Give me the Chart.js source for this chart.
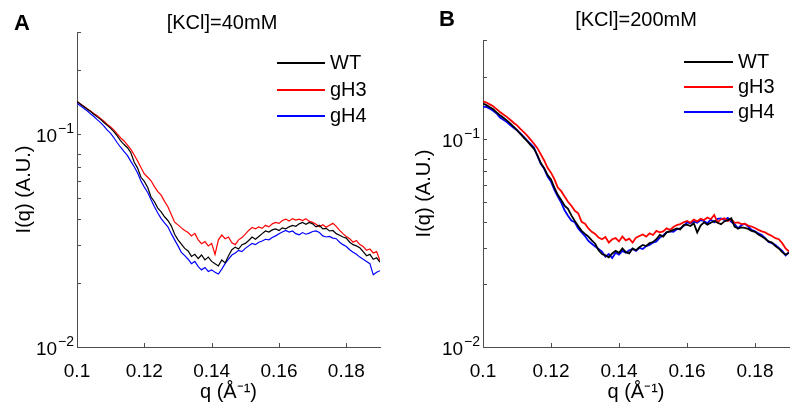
<!DOCTYPE html>
<html>
<head>
<meta charset="utf-8">
<script src="https://cdn.jsdelivr.net/npm/chart.js@4.4.1/dist/chart.umd.min.js"></script>
<style>
  html, body { margin:0; padding:0; background:#fff; }
  body { width:798px; height:412px; position:relative; overflow:hidden; font-family:"Liberation Sans", Arial, Helvetica, sans-serif; color:#000; }
  canvas { position:absolute; top:0; }
  .txt { position:absolute; white-space:nowrap; line-height:1; }
  .letter { font-weight:bold; font-size:22px; }
  .ttl { font-size:20px; transform:translateX(-50%); }
  .leg { position:absolute; font-size:20px; }
  .leg .row { position:absolute; left:0; height:0; white-space:nowrap; }
  .leg .ln { position:absolute; left:0; }
  .leg .lb { position:absolute; top:-11px; line-height:1; }
</style>
</head>
<body>
<canvas id="cA" width="399" height="412" style="left:0;width:399px;height:412px"></canvas>
<canvas id="cB" width="399" height="412" style="left:399px;width:399px;height:412px"></canvas>

<div class="txt letter" style="left:14px;top:12px">A</div>
<div class="txt letter" style="left:439px;top:8px">B</div>
<div class="txt ttl" id="tA" style="left:222px;top:12px"></div>
<div class="txt ttl" id="tB" style="left:636px;top:9px"></div>
<div class="leg" id="legA" style="left:277px;top:0"></div>
<div class="leg" id="legB" style="left:684px;top:0"></div>

<script>
// ---------- data ----------
const titles = ['[KCl]=40mM', '[KCl]=200mM'];
const seriesNames = ['WT', 'gH3', 'gH4'];
const seriesColors = ['#000000', '#ff0000', '#0000ff'];
const xTicks = [0.10, 0.12, 0.14, 0.16, 0.18];
const yTicks = [0.01, 0.02, 0.03, 0.04, 0.05, 0.06, 0.07, 0.08, 0.1, 0.2, 0.3];
const yMajor = [0.1, 0.01];
const yMajorBase = ['10', '10'];
const yMajorExp = ['\u22121', '\u22122'];
const xTitle = 'q (\u00C5\u207B\u00B9)';
const yTitle = 'I(q) (A.U.)';

const q = [0.100,0.101,0.102,0.103,0.104,0.105,0.106,0.107,0.108,0.109,
           0.110,0.111,0.112,0.113,0.114,0.115,0.116,0.117,0.118,0.119,
           0.120,0.121,0.122,0.123,0.124,0.125,0.126,0.127,0.128,0.129,
           0.130,0.131,0.132,0.133,0.134,0.135,0.136,0.137,0.138,0.139,
           0.140,0.141,0.142,0.143,0.144,0.145,0.146,0.147,0.148,0.149,
           0.150,0.151,0.152,0.153,0.154,0.155,0.156,0.157,0.158,0.159,
           0.160,0.161,0.162,0.163,0.164,0.165,0.166,0.167,0.168,0.169,
           0.170,0.171,0.172,0.173,0.174,0.175,0.176,0.177,0.178,0.179,
           0.180,0.181,0.182,0.183,0.184,0.185,0.186,0.187,0.188,0.189,0.190];

// Panel A ([KCl]=40mM)
const wtA = [0.1416,0.1378,0.1342,0.1305,0.1272,0.1235,0.1200,0.1168,0.1130,0.1095,
             0.1060,0.1020,0.0975,0.0925,0.0890,0.0860,0.0815,0.0735,0.0690,0.0625,
             0.0598,0.0560,0.0505,0.0480,0.0448,0.0430,0.0408,0.0392,0.0370,0.0338,
             0.0318,0.0304,0.0290,0.0282,0.0266,0.0272,0.0260,0.0270,0.0256,0.0264,
             0.0252,0.0246,0.0240,0.0256,0.0248,0.0268,0.0286,0.0294,0.0288,0.0302,
             0.0306,0.0316,0.0328,0.0320,0.0330,0.0340,0.0350,0.0346,0.0354,0.0358,
             0.0352,0.0362,0.0358,0.0366,0.0372,0.0368,0.0378,0.0384,0.0376,0.0384,
             0.0378,0.0366,0.0372,0.0358,0.0360,0.0350,0.0352,0.0340,0.0334,0.0328,
             0.0324,0.0310,0.0302,0.0298,0.0292,0.0280,0.0268,0.0272,0.0258,0.0262,0.0250];
const gh3A = [0.1416,0.1380,0.1345,0.1310,0.1280,0.1245,0.1215,0.1180,0.1145,0.1105,
              0.1075,0.1040,0.0995,0.0955,0.0925,0.0885,0.0845,0.0795,0.0745,0.0695,
              0.0648,0.0625,0.0602,0.0565,0.0535,0.0515,0.0482,0.0455,0.0418,0.0385,
              0.0374,0.0362,0.0352,0.0344,0.0332,0.0341,0.0318,0.0305,0.0312,0.0298,
              0.0306,0.0272,0.0318,0.0335,0.0322,0.0328,0.0308,0.0302,0.0318,0.0326,
              0.0338,0.0352,0.0364,0.0358,0.0366,0.0360,0.0372,0.0366,0.0378,0.0384,
              0.0380,0.0392,0.0398,0.0390,0.0400,0.0394,0.0398,0.0392,0.0400,0.0388,
              0.0384,0.0376,0.0366,0.0374,0.0364,0.0372,0.0380,0.0368,0.0352,0.0340,
              0.0330,0.0322,0.0310,0.0316,0.0302,0.0296,0.0284,0.0288,0.0276,0.0280,0.0254];
const gh4A = [0.1390,0.1352,0.1318,0.1282,0.1240,0.1205,0.1165,0.1128,0.1085,0.1040,
              0.1005,0.0955,0.0905,0.0862,0.0825,0.0790,0.0742,0.0700,0.0655,0.0600,
              0.0562,0.0530,0.0490,0.0455,0.0425,0.0400,0.0382,0.0366,0.0340,0.0318,
              0.0298,0.0278,0.0268,0.0258,0.0246,0.0252,0.0238,0.0230,0.0236,0.0226,
              0.0230,0.0224,0.0220,0.0232,0.0246,0.0258,0.0270,0.0276,0.0284,0.0280,
              0.0290,0.0298,0.0306,0.0302,0.0310,0.0314,0.0320,0.0318,0.0326,0.0332,
              0.0340,0.0346,0.0352,0.0346,0.0350,0.0340,0.0336,0.0344,0.0338,0.0342,
              0.0348,0.0350,0.0344,0.0332,0.0328,0.0330,0.0324,0.0322,0.0310,0.0302,
              0.0296,0.0286,0.0278,0.0272,0.0264,0.0258,0.0252,0.0246,0.0218,0.0224,0.0228];

// Panel B ([KCl]=200mM)
const wtB = [0.1483,0.1458,0.1425,0.1392,0.1345,0.1303,0.1268,0.1232,0.1190,0.1148,
             0.1104,0.1060,0.1018,0.0978,0.0935,0.0898,0.0838,0.0768,0.0725,0.0672,
             0.0640,0.0585,0.0540,0.0510,0.0478,0.0462,0.0430,0.0404,0.0382,0.0362,
             0.0350,0.0340,0.0326,0.0314,0.0292,0.0280,0.0276,0.0270,0.0282,0.0290,
             0.0284,0.0298,0.0286,0.0282,0.0298,0.0292,0.0302,0.0310,0.0306,0.0316,
             0.0320,0.0330,0.0346,0.0340,0.0356,0.0360,0.0366,0.0372,0.0368,0.0386,
             0.0388,0.0382,0.0394,0.0356,0.0384,0.0398,0.0388,0.0396,0.0404,0.0396,
             0.0390,0.0402,0.0408,0.0416,0.0380,0.0372,0.0376,0.0374,0.0370,0.0362,
             0.0358,0.0348,0.0340,0.0332,0.0322,0.0318,0.0306,0.0298,0.0286,0.0278,0.0284];
const gh3B = [0.1520,0.1500,0.1470,0.1440,0.1395,0.1352,0.1315,0.1280,0.1240,0.1200,
              0.1165,0.1120,0.1080,0.1040,0.0995,0.0950,0.0905,0.0845,0.0790,0.0728,
              0.0690,0.0642,0.0585,0.0562,0.0530,0.0500,0.0478,0.0452,0.0440,0.0400,
              0.0392,0.0372,0.0358,0.0350,0.0336,0.0330,0.0338,0.0318,0.0330,0.0334,
              0.0322,0.0340,0.0326,0.0332,0.0318,0.0336,0.0342,0.0348,0.0340,0.0352,
              0.0346,0.0362,0.0356,0.0360,0.0372,0.0366,0.0378,0.0386,0.0390,0.0398,
              0.0404,0.0396,0.0410,0.0402,0.0414,0.0408,0.0420,0.0412,0.0432,0.0398,
              0.0412,0.0416,0.0404,0.0412,0.0396,0.0398,0.0390,0.0392,0.0384,0.0380,
              0.0374,0.0366,0.0360,0.0356,0.0348,0.0342,0.0334,0.0330,0.0316,0.0298,0.0288];
const gh4B = [0.1429,0.1430,0.1400,0.1370,0.1330,0.1270,0.1240,0.1210,0.1170,0.1135,
              0.1104,0.1065,0.1025,0.0985,0.0948,0.0912,0.0830,0.0760,0.0720,0.0660,
              0.0625,0.0570,0.0530,0.0495,0.0455,0.0428,0.0406,0.0398,0.0372,0.0356,
              0.0342,0.0324,0.0314,0.0304,0.0296,0.0288,0.0272,0.0280,0.0268,0.0284,
              0.0278,0.0290,0.0284,0.0292,0.0296,0.0290,0.0300,0.0296,0.0306,0.0310,
              0.0318,0.0322,0.0336,0.0344,0.0356,0.0360,0.0358,0.0368,0.0372,0.0382,
              0.0398,0.0394,0.0402,0.0396,0.0408,0.0404,0.0394,0.0410,0.0398,0.0414,
              0.0416,0.0408,0.0418,0.0400,0.0390,0.0372,0.0386,0.0392,0.0380,0.0366,
              0.0360,0.0352,0.0346,0.0334,0.0320,0.0316,0.0310,0.0300,0.0290,0.0276,0.0286];

// ---------- drawing ----------
const FONT = '"Liberation Sans", Arial, Helvetica, sans-serif';
const AXIS_COLOR = '#4d4d4d';

const axisDecor = {
  id: 'axisDecor',
  afterDraw(chart) {
    const { ctx, chartArea: a, scales: { x, y } } = chart;
    ctx.save();
    // inward tick marks
    ctx.strokeStyle = AXIS_COLOR;
    ctx.lineWidth = 1;
    ctx.beginPath();
    x.ticks.forEach(t => {
      const px = Math.round(x.getPixelForValue(t.value)) + 0.5;
      ctx.moveTo(px, a.bottom); ctx.lineTo(px, a.bottom - 4);
    });
    y.ticks.forEach(t => {
      const py = Math.round(y.getPixelForValue(t.value)) + 0.5;
      ctx.moveTo(a.left, py); ctx.lineTo(a.left + 4, py);
    });
    ctx.stroke();
    // power-of-ten labels with raised exponent
    ctx.fillStyle = '#000';
    ctx.textBaseline = 'middle';
    ctx.textAlign = 'right';
    yMajor.forEach((v, i) => {
      const py = y.getPixelForValue(v);
      const expRight = a.left - 3;
      ctx.font = '14px ' + FONT;
      const ew = ctx.measureText(yMajorExp[i]).width;
      ctx.fillText(yMajorExp[i], expRight, py - 5);
      ctx.font = '19px ' + FONT;
      ctx.fillText(yMajorBase[i], expRight - ew - 1, py + 3);
    });
    ctx.restore();
  }
};

function makePanel(canvasId, series, cfg) {
  const datasets = series.map((vals, i) => ({
    label: seriesNames[i],
    data: q.map((xv, k) => ({ x: xv, y: vals[k] })),
    borderColor: seriesColors[i],
    backgroundColor: seriesColors[i],
    borderWidth: cfg.lw,
    pointRadius: 0,
    tension: 0,
    fill: false
  }));
  return new Chart(document.getElementById(canvasId), {
    type: 'line',
    data: { datasets },
    options: {
      responsive: false,
      animation: false,
      devicePixelRatio: 1,
      layout: { padding: { left: 0, top: cfg.top, right: cfg.right, bottom: 0 } },
      plugins: { legend: { display: false }, tooltip: { enabled: false }, title: { display: false } },
      scales: {
        x: {
          type: 'linear', min: 0.1, max: 0.19,
          afterBuildTicks: s => { s.ticks = xTicks.map(v => ({ value: v })); },
          afterFit: s => { s.height = 65; },
          grid: { display: false },
          border: { display: true, color: AXIS_COLOR, width: 1 },
          ticks: {
            color: '#000', padding: 5, maxRotation: 0, autoSkip: false,
            font: { family: FONT, size: 19 },
            callback: v => String(Math.round(v * 100) / 100)
          },
          title: {
            display: true, text: xTitle, color: '#000',
            font: { family: FONT, size: 20 }, padding: { top: 0, bottom: 8 }
          }
        },
        y: {
          type: 'logarithmic', min: 0.01, max: 0.3,
          afterBuildTicks: s => { s.ticks = yTicks.map(v => ({ value: v })); },
          afterFit: s => { s.width = cfg.yw; },
          grid: { display: false },
          border: { display: true, color: AXIS_COLOR, width: 1 },
          ticks: { display: false },
          title: {
            display: true, text: yTitle, color: '#000',
            font: { family: FONT, size: 20 }, padding: { top: cfg.ytp, bottom: 0 }
          }
        }
      }
    },
    plugins: [axisDecor]
  });
}

makePanel('cA', [wtA, gh3A, gh4A], { top: 32, right: 19, yw: 77, ytp: 12, lw: 1.2 });
makePanel('cB', [wtB, gh3B, gh4B], { top: 40, right: 9, yw: 84, ytp: 13, lw: 1.8 });

document.getElementById('tA').textContent = titles[0];
document.getElementById('tB').textContent = titles[1];

function buildLegend(id, rows, lineLen, lw) {
  const el = document.getElementById(id);
  seriesNames.forEach((name, i) => {
    const r = document.createElement('div');
    r.className = 'row';
    r.style.top = rows[i] + 'px';
    const ln = document.createElement('div');
    ln.className = 'ln';
    ln.style.width = lineLen + 'px';
    ln.style.top = (-lw / 2) + 'px';
    ln.style.height = lw + 'px';
    ln.style.background = seriesColors[i];
    const lb = document.createElement('div');
    lb.className = 'lb';
    lb.style.left = (lineLen + 5) + 'px';
    lb.textContent = name;
    r.appendChild(ln); r.appendChild(lb);
    el.appendChild(r);
  });
}
buildLegend('legA', [63, 90, 116], 48, 1.2);
buildLegend('legB', [62, 87, 112], 49, 1.8);
</script>
</body>
</html>
